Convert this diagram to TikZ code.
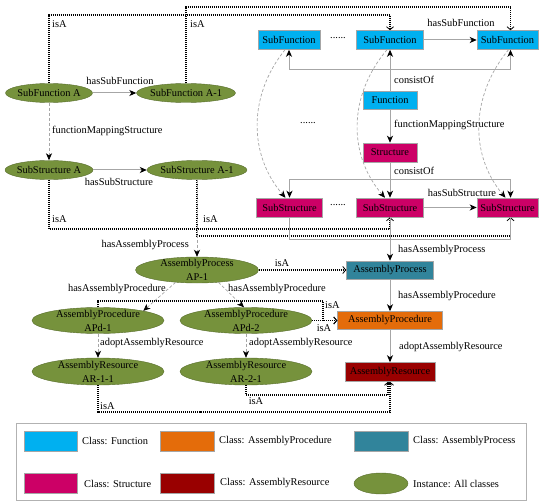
\documentclass[tikz,border=0pt]{standalone}
\usepackage{fontspec}
\setmainfont{Liberation Serif}
\usetikzlibrary{arrows.meta,shapes.geometric}
\definecolor{cfun}{HTML}{00B0F0}
\definecolor{cstr}{HTML}{CC0066}
\definecolor{cproc}{HTML}{31849B}
\definecolor{cpd}{HTML}{E46C0A}
\definecolor{cres}{HTML}{990000}
\definecolor{cinst}{HTML}{76923C}
\tikzset{
  base/.style={font=\fontsize{10.4}{13}\selectfont},
  lbl/.style={base, inner sep=0pt},
  boxs/.style={base, draw=black!35, line width=0.5pt, minimum height=19pt, inner sep=0pt},
  inst/.style={base, ellipse, draw=cinst!75!black, line width=0.4pt, fill=cinst, inner sep=-3pt, align=center, minimum height=19pt},
  inst2/.style={inst, font=\fontsize{10.4}{14}\selectfont, minimum height=26pt},
  swatch/.style={draw=black!35, line width=0.5pt, minimum width=53.5pt, minimum height=20pt, inner sep=0pt},
  rel/.style={draw=black!35, line width=1pt, -{Stealth[length=7pt,width=6pt,inset=2pt,black]}},
  gline/.style={draw=black!35, line width=1pt},
  drel/.style={rel, dash pattern=on 3pt off 2pt, line width=0.7pt},
  isa/.style={draw=black, line width=1.2pt, dash pattern=on 1.1pt off 0.9pt, -{Straight Barb[length=3pt,width=7pt,line width=0.8pt]}}
}
\begin{document}
\begin{tikzpicture}[x=1pt,y=-1pt]
\useasboundingbox (0,0) rectangle (550,503);

% instances
\node[inst, minimum width=87pt] (sfA) at (49,93) {SubFunction A};
\node[inst, minimum width=99pt] (sfA1) at (186,93) {SubFunction A-1};
\node[inst, minimum width=88pt] (ssA) at (49,170) {SubStructure A};
\node[inst, minimum width=100pt] (ssA1) at (197,170) {SubStructure A-1};
\node[inst2, minimum width=123pt] (ap1) at (197,270) {AssemblyProcess\\AP-1};
\node[inst2, minimum width=132pt] (apd1) at (98,320.5) {AssemblyProcedure\\APd-1};
\node[inst2, minimum width=132pt] (apd2) at (246,320.5) {AssemblyProcedure\\APd-2};
\node[inst2, minimum width=132pt, minimum height=27pt] (ar11) at (98,371.5) {AssemblyResource\\AR-1-1};
\node[inst2, minimum width=132pt, minimum height=27pt] (ar21) at (246,371.5) {AssemblyResource\\AR-2-1};

% classes
\node[boxs, fill=cfun, minimum width=62pt] (sf1) at (289,40) {SubFunction};
\node[boxs, fill=cfun, minimum width=67pt] (sf2) at (390,40) {SubFunction};
\node[boxs, fill=cfun, minimum width=61pt] (sf3) at (507.5,40) {SubFunction};
\node[boxs, fill=cfun, minimum width=54pt, minimum height=18pt] (fn) at (390,100) {Function};
\node[boxs, fill=cstr, minimum width=54pt] (st) at (390,152.5) {Structure};
\node[boxs, fill=cstr, minimum width=66pt] (ss1) at (289.5,207.5) {SubStructure};
\node[boxs, fill=cstr, minimum width=67pt] (ss2) at (390,207.5) {SubStructure};
\node[boxs, fill=cstr, minimum width=61pt] (ss3) at (507.5,207.5) {SubStructure};
\node[boxs, fill=cproc, minimum width=87pt, minimum height=18pt] (apb) at (390,270) {AssemblyProcess};
\node[boxs, fill=cpd, minimum width=105pt, minimum height=18pt] (pdb) at (390,320.5) {AssemblyProcedure};
\node[boxs, fill=cres, minimum width=90pt] (rsb) at (390,372) {AssemblyResource};

% dots
\node[lbl] (d1) at (338,38) {......};
\node[lbl] (d2) at (308,123) {......};
\node[lbl] (d3) at (338,205.5) {......};

% relations
\draw[rel] (sfA) -- (sfA1);
\draw[drel] (sfA) -- (ssA);
\draw[rel] (ssA) -- (ssA1);
\draw[rel] (sf2) -- (sf3);
\draw[rel] (ss2) -- (ss3);
\draw[rel] (fn) -- (sf2);
\draw[rel] (fn) -- (st);
\draw[rel] (st) -- (ss2);
\coordinate (cf) at (390,70);
\draw[rel] (cf) -| (sf1.south);
\draw[rel] (cf) -| ([xshift=3pt]sf3.south);
\coordinate (cs) at (390,180);
\draw[rel] (cs) -| (ss1.north);
\draw[rel] (cs) -| ([xshift=3pt]ss3.north);

% mapping curves
\draw[drel] ([xshift=-4pt]sf1.south) .. controls +(-37,46) and +(-37,-43) .. ([xshift=-4pt]ss1.north);
\draw[drel] ([xshift=-3pt]sf2.south) .. controls +(-39,46) and +(-37,-43) .. ([xshift=-5pt]ss2.north);
\draw[drel] ([xshift=1pt]sf3.south) .. controls +(-38,46) and +(-36,-43) .. ([xshift=-2pt]ss3.north);

% isA top
\coordinate (t1) at (200,15);
\draw[isa] (sfA.north) |- (t1) -| (sf2.north);
\coordinate (t2) at (300,7);
\draw[isa] (sfA1.north) |- (t2) -| ([xshift=3pt]sf3.north);
\coordinate (b1) at (200,229);
\draw[isa] (ssA.south) |- (b1) -| (ss2.south);
\coordinate (b2) at (300,236);
\draw[isa] (ssA1.south) |- (b2) -| ([xshift=3pt]ss3.south);
\coordinate (g1) at (400,239.5);
\draw[gline] (ss1.south) |- (g1) -| ([xshift=3pt]ss3.south);
\draw[rel] (ss2) -- (apb);
\draw[drel] (ssA1) -- (ap1);

% assembly
\draw[isa] (ap1) -- (apb);
\draw[rel] (apb) -- (pdb);
\draw[rel] (pdb) -- (rsb);
\draw[drel] (ap1.210) -- (apd1.12);
\draw[drel] (ap1.330) -- ([xshift=-2pt]apd2.north);
\draw[drel] (apd1) -- (ar11);
\draw[drel] (apd2) -- (ar21);
\coordinate (p1) at (323,301);
\draw[isa] (apd1.north) |- (p1) |- (pdb.west);
\draw[isa] (apd2) -- (pdb);
\coordinate (r1) at (200,412);
\draw[isa] (ar11.south) |- (r1) -| (rsb.south);
\coordinate (r2) at (300,395);
\draw[isa] (ar21.south) |- (r2) -| ([xshift=-2pt]rsb.south);

% labels
\node[lbl] (l1) at (120,81) {hasSubFunction};
\node[lbl, anchor=west] (l2) at (52,131) {functionMappingStructure};
\node[lbl] (l3) at (119,182) {hasSubStructure};
\node[lbl, anchor=west] (l4) at (52,24) {isA};
\node[lbl, anchor=west] (l5) at (190,24) {isA};
\node[lbl, anchor=west] (l6) at (52,219) {isA};
\node[lbl, anchor=west] (l7) at (203,219) {isA};
\node[lbl] (l8) at (461,23) {hasSubFunction};
\node[lbl, anchor=west] (l9) at (394,80) {consistOf};
\node[lbl, anchor=west] (l10) at (394,125) {functionMappingStructure};
\node[lbl, anchor=west] (l11) at (394,171) {consistOf};
\node[lbl] (l12) at (462,193) {hasSubStructure};
\node[lbl, anchor=east] (l13) at (189,245) {hasAssemblyProcess};
\node[lbl, anchor=west] (l14) at (398,250) {hasAssemblyProcess};
\node[lbl] (l15) at (282,263) {isA};
\node[lbl, anchor=east] (l16) at (166,289) {hasAssemblyProcedure};
\node[lbl, anchor=west] (l17) at (228,289) {hasAssemblyProcedure};
\node[lbl, anchor=west] (l18) at (398,296) {hasAssemblyProcedure};
\node[lbl, anchor=west] (l19) at (325,305) {isA};
\node[lbl] (l20) at (324,328) {isA};
\node[lbl, anchor=west] (l21) at (100,343) {adoptAssemblyResource};
\node[lbl, anchor=west] (l22) at (249,343) {adoptAssemblyResource};
\node[lbl, anchor=west] (l23) at (399,347) {adoptAssemblyResource};
\node[lbl, anchor=west] (l24) at (100,406) {isA};
\node[lbl] (l25) at (256,401) {isA};

% legend
\draw[draw=black!30, line width=0.8pt] (16,423) rectangle (526,500);
\node[swatch, fill=cfun] (k1) at (50.5,441) {};
\node[lbl, anchor=west] (kt1) at (82,441) {Class: Function};
\node[swatch, fill=cpd] (k2) at (187,441) {};
\node[lbl, anchor=west] (kt2) at (219,441) {Class: AssemblyProcedure};
\node[swatch, fill=cproc] (k3) at (381,441) {};
\node[lbl, anchor=west] (kt3) at (413,441) {Class: AssemblyProcess};
\node[swatch, fill=cstr] (k4) at (50.5,483.5) {};
\node[lbl, anchor=west] (kt4) at (84,483.5) {Class: Structure};
\node[swatch, fill=cres] (k5) at (187,483.5) {};
\node[lbl, anchor=west] (kt5) at (220,483.5) {Class: AssemblyResource};
\node[inst, minimum width=54pt, minimum height=21pt] (k6) at (381,483.5) {};
\node[lbl, anchor=west] (kt6) at (413,483.5) {Instance: All classes};
\end{tikzpicture}
\end{document}
